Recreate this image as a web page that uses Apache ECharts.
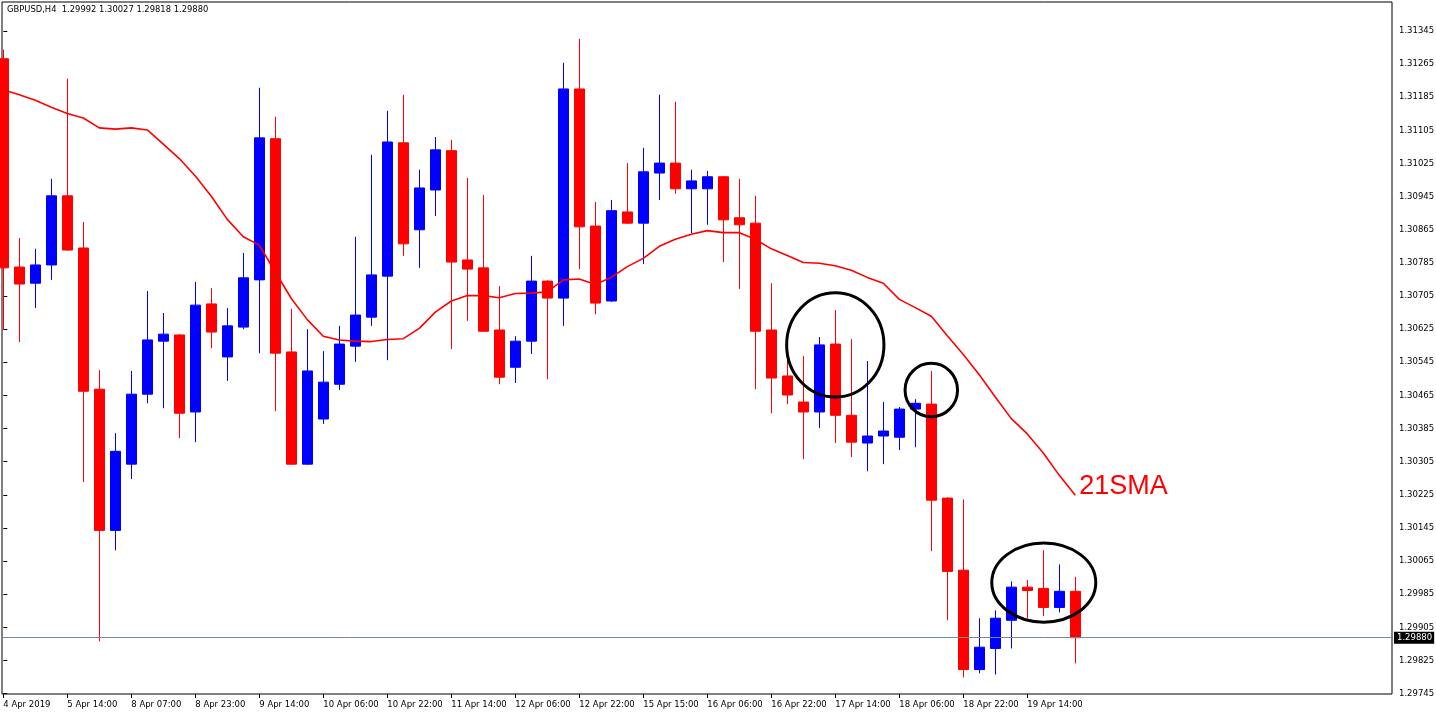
<!DOCTYPE html>
<html>
<head>
<meta charset="utf-8">
<script src="https://cdn.jsdelivr.net/npm/echarts@6/dist/echarts.min.js"></script>
<style>
html,body{margin:0;padding:0;background:#fff;}
#c{width:1436px;height:716px;}
</style>
</head>
<body>
<div id="c"></div>
<script>
// ---------------- data ----------------
const symbol = 'GBPUSD';
const timeframe = 'H4';

const openP = [1.31278,1.30775,1.30736,1.30780,1.30947,1.30821,1.30480,1.30139,1.30299,1.30468,
  1.30596,1.30611,1.30425,1.30686,1.30558,1.30630,1.30744,1.31085,1.30570,1.30299,
  1.30408,1.30492,1.30584,1.30654,1.30753,1.31075,1.30865,1.30961,1.31056,1.30792,
  1.30773,1.30623,1.30533,1.30596,1.30741,1.30700,1.31205,1.30874,1.30693,1.30908,
  1.30881,1.31002,1.31026,1.30964,1.30964,1.30993,1.30894,1.30881,1.30623,1.30512,
  1.30449,1.30425,1.30589,1.30417,1.30350,1.30367,1.30364,1.30432,1.30444,1.30217,
  1.30043,1.29803,1.29854,1.29922,1.30002,1.29999,1.29953,1.29992];
const highP = [1.31300,1.30845,1.30819,1.30988,1.31230,1.30884,1.30526,1.30374,1.30524,1.30717,
  1.30664,1.30613,1.30739,1.30724,1.30676,1.30809,1.31208,1.31138,1.30674,1.30625,
  1.30572,1.30633,1.30848,1.31046,1.31152,1.31191,1.31010,1.31089,1.31082,1.30990,
  1.30949,1.30729,1.30608,1.30802,1.30743,1.31268,1.31326,1.30932,1.30937,1.31026,
  1.31063,1.31191,1.31174,1.31010,1.31007,1.30995,1.30988,1.30947,1.30736,1.30560,
  1.30560,1.30606,1.30671,1.30601,1.30548,1.30449,1.30437,1.30456,1.30524,1.30219,
  1.30214,1.29927,1.29946,1.30016,1.30019,1.30091,1.30057,1.30027];
const lowP = [1.30623,1.30594,1.30676,1.30744,1.30814,1.30256,1.29871,1.30091,1.30263,1.30446,
  1.30434,1.30362,1.30352,1.30579,1.30500,1.30625,1.30567,1.30427,1.30297,1.30297,
  1.30396,1.30478,1.30546,1.30633,1.30550,1.30802,1.30773,1.30898,1.30577,1.30645,
  1.30618,1.30492,1.30495,1.30565,1.30504,1.30633,1.30770,1.30661,1.30691,1.30879,
  1.30782,1.30937,1.30952,1.30857,1.30877,1.30787,1.30722,1.30480,1.30422,1.30444,
  1.30311,1.30386,1.30350,1.30316,1.30282,1.30299,1.30333,1.30340,1.30089,1.29922,
  1.29784,1.29794,1.29791,1.29854,1.29927,1.29932,1.29941,1.29818];
const closeP = [1.30773,1.30734,1.30780,1.30947,1.30816,1.30475,1.30139,1.30330,1.30468,1.30599,
  1.30613,1.30422,1.30683,1.30618,1.30633,1.30749,1.31087,1.30567,1.30299,1.30524,
  1.30497,1.30589,1.30659,1.30756,1.31077,1.30831,1.30966,1.31058,1.30787,1.30770,
  1.30620,1.30509,1.30596,1.30741,1.30700,1.31205,1.30872,1.30688,1.30911,1.30881,
  1.31005,1.31026,1.30964,1.30983,1.30993,1.30889,1.30877,1.30620,1.30507,1.30466,
  1.30425,1.30587,1.30417,1.30352,1.30367,1.30379,1.30432,1.30446,1.30212,1.30040,
  1.29803,1.29857,1.29927,1.30002,1.29994,1.29953,1.29992,1.29880];

// 21-period SMA
const sma21 = [1.31203,1.31191,1.31178,1.31161,1.31146,1.31135,1.31111,1.31108,1.31111,1.31106,
  1.31072,1.31037,1.30995,1.30946,1.30890,1.30848,1.30828,1.30763,1.30699,1.30648,
  1.30608,1.30599,1.30596,1.30595,1.30600,1.30602,1.30627,1.30666,1.30693,1.30706,
  1.30706,1.30701,1.30711,1.30712,1.30715,1.30744,1.30746,1.30733,1.30750,1.30776,
  1.30796,1.30825,1.30842,1.30854,1.30863,1.30858,1.30858,1.30842,1.30819,1.30803,
  1.30786,1.30784,1.30778,1.30767,1.30750,1.30736,1.30697,1.30677,1.30656,1.30609,
  1.30564,1.30515,1.30461,1.30409,1.30372,1.30326,1.30272,1.30224];
const smaName = '21SMA';

const tickIdx = [0,4,8,12,16,20,24,28,32,36,40,44,48,52,56,60,64];
const tickLabels = ['4 Apr 2019','5 Apr 14:00','8 Apr 07:00','8 Apr 23:00','9 Apr 14:00',
  '10 Apr 06:00','10 Apr 22:00','11 Apr 14:00','12 Apr 06:00','12 Apr 22:00','15 Apr 15:00',
  '16 Apr 06:00','16 Apr 22:00','17 Apr 14:00','18 Apr 06:00','18 Apr 22:00','19 Apr 14:00'];

const priceTicks = [1.29745,1.29825,1.29905,1.29985,1.30065,1.30145,1.30225,1.30305,1.30385,
  1.30465,1.30545,1.30625,1.30705,1.30785,1.30865,1.30945,1.31025,1.31105,1.31185,1.31265,1.31345];

// hand-drawn annotation ellipses (center candle index, center price, half width in candles, half height in price)
const noteIdx = [52, 58, 65.03];
const notePrice = [1.30587, 1.30478, 1.30013];
const noteHalfW = [3.04, 1.64, 3.25];
const noteHalfH = [0.00126, 0.000645, 0.000955];

// ---------------- chart ----------------
const FONT = 'DejaVu Sans';
const last = openP.length - 1;
const lastClose = closeP[last];
const candles = openP.map((o, i) => [i, o, closeP[i], lowP[i], highP[i]]);
const smaData = sma21.map((v, i) => [i, v]);

const chart = echarts.init(document.getElementById('c'), null, {renderer: 'canvas'});

const option = {
  animation: false,
  backgroundColor: '#ffffff',
  title: {
    text: symbol + ',' + timeframe + '  ' + openP[last].toFixed(5) + ' ' + highP[last].toFixed(5) + ' ' +
          lowP[last].toFixed(5) + ' ' + closeP[last].toFixed(5),
    left: 7, top: 6, padding: 0,
    textStyle: {fontSize: 8.4, fontWeight: 'normal', color: '#000', fontFamily: FONT}
  },
  grid: {left: 2, right: 44, top: 2, bottom: 22, show: true, borderColor: '#000', borderWidth: 1,
         backgroundColor: '#fff', containLabel: false, outerBoundsMode: 'none'},
  xAxis: {
    type: 'value', min: -0.08125, max: 86.79375,
    splitLine: {show: false},
    axisLine: {show: false},
    axisTick: {show: true, customValues: tickIdx, length: 4, lineStyle: {color: '#000'}},
    axisLabel: {
      customValues: tickIdx,
      formatter: function (v) { const k = tickIdx.indexOf(Math.round(v)); return k >= 0 ? tickLabels[k] : ''; },
      align: 'left', margin: 6, fontSize: 8.5, color: '#000', fontFamily: FONT
    }
  },
  yAxis: {
    type: 'value', position: 'right', min: 1.29744, max: 1.31415, scale: true,
    splitLine: {show: false},
    axisLine: {show: false},
    axisTick: {show: true, customValues: priceTicks, length: 4, lineStyle: {color: '#000'}},
    axisLabel: {
      customValues: priceTicks,
      formatter: function (v) { return v.toFixed(5); },
      margin: 7, align: 'left', fontSize: 8.5, color: '#000', fontFamily: FONT
    }
  },
  series: [
    {
      type: 'candlestick',
      data: candles,
      barWidth: 10,
      itemStyle: {color: '#0000FF', color0: '#FF0000', borderColor: '#0000FF', borderColor0: '#FF0000', borderWidth: 1},
      z: 3
    },
    {
      type: 'line',
      name: smaName,
      data: smaData,
      symbol: 'none',
      showSymbol: false,
      lineStyle: {color: '#FF0000', width: 1.6},
      endLabel: {
        show: true, formatter: smaName, color: '#FF0000', fontSize: 27,
        fontFamily: 'Liberation Sans', distance: 4, offset: [0, -9]
      },
      markLine: {
        silent: true, precision: 5, symbol: ['none', 'none'],
        label: {
          show: true, position: 'end', distance: 2,
          formatter: function () { return lastClose.toFixed(5); },
          backgroundColor: '#000', color: '#fff', padding: [2, 2, 1, 3],
          fontSize: 8.5, fontFamily: FONT
        },
        lineStyle: {color: '#778899', width: 1, type: 'solid'},
        data: [{yAxis: lastClose}]
      },
      z: 4
    }
  ]
};
chart.setOption(option);

// annotation ellipses positioned through the chart's own scales
const ellipses = noteIdx.map(function (xi, k) {
  const c = chart.convertToPixel({gridIndex: 0}, [xi, notePrice[k]]);
  const e = chart.convertToPixel({gridIndex: 0}, [xi + noteHalfW[k], notePrice[k] + noteHalfH[k]]);
  return {
    type: 'ellipse', silent: true, z: 100,
    shape: {cx: c[0], cy: c[1], rx: Math.abs(e[0] - c[0]), ry: Math.abs(c[1] - e[1])},
    style: {fill: 'none', stroke: '#000', lineWidth: 3}
  };
});
chart.setOption({graphic: {elements: ellipses}});
</script>
</body>
</html>
